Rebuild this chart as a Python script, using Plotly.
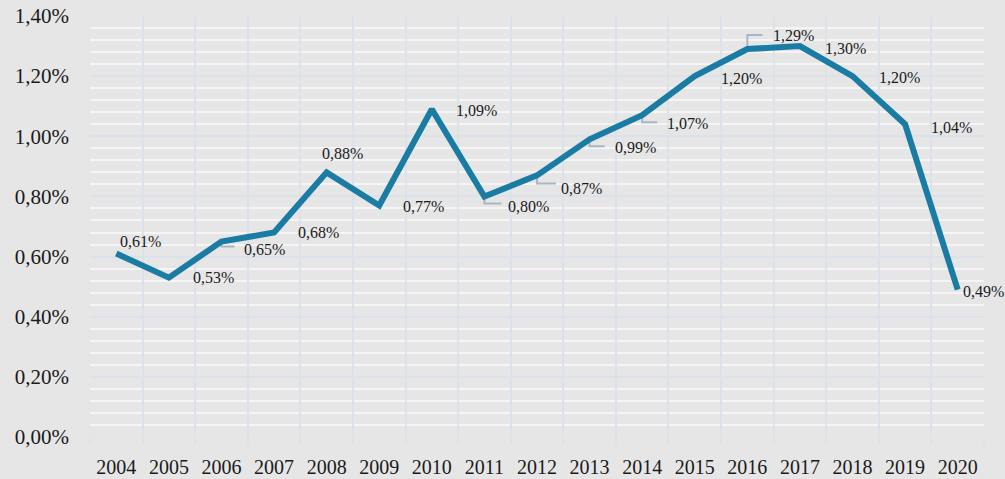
import plotly.graph_objects as go

years = ["2004", "2005", "2006", "2007", "2008", "2009", "2010", "2011", "2012",
         "2013", "2014", "2015", "2016", "2017", "2018", "2019", "2020"]
values = [0.61, 0.53, 0.65, 0.68, 0.88, 0.77, 1.09, 0.80, 0.87,
          0.99, 1.07, 1.20, 1.29, 1.30, 1.20, 1.04, 0.49]
labels = ["0,61%", "0,53%", "0,65%", "0,68%", "0,88%", "0,77%", "1,09%", "0,80%", "0,87%",
          "0,99%", "1,07%", "1,20%", "1,29%", "1,30%", "1,20%", "1,04%", "0,49%"]

# label offsets in screen pixels (dx to left edge, dy downward)
label_dx = [2, 22, 21, 22, -7, 22, 22, 22, 22, 23, 23, 24, 24, 23, 24, 24, 3]
label_dy = [-12, 0, 8, 0, -19, 1, 1, 10, 13, 8, 8, 2, -14, 2, 1, 3, 2]
# leader lines: (index, vertical px (down positive), horizontal px)
leaders = [(2, 5, 13), (7, 7, 17), (8, 8, 19), (9, 7, 15), (10, 7, 15), (12, -14, 15)]

FONT = "Liberation Serif"
BG = "#e6e6e6"
LINE = "#1a7ca3"

fig = go.Figure()
fig.add_trace(go.Scatter(
    x=years, y=values, mode="lines",
    line=dict(color=LINE, width=6),
    hoverinfo="skip", showlegend=False,
))

for i, (yr, v, t) in enumerate(zip(years, values, labels)):
    fig.add_annotation(
        x=i, y=v, text=t, showarrow=False,
        xanchor="left", yanchor="middle",
        xshift=label_dx[i], yshift=-label_dy[i],
        font=dict(family=FONT, size=16, color="#1a1a1a"),
    )

for idx, down, right in leaders:
    fig.add_shape(
        type="path", xref="x", yref="y",
        xsizemode="pixel", ysizemode="pixel",
        xanchor=idx, yanchor=values[idx],
        path=f"M0,0 V{-down} H{right}",
        line=dict(color="#a9b6c5", width=2),
        layer="between",
    )

fig.update_layout(
    width=1005, height=479,
    margin=dict(l=90, r=21, t=16, b=42),
    paper_bgcolor=BG, plot_bgcolor=BG,
    separators=",.",
    font=dict(family=FONT, size=20, color="#1a1a1a"),
    showlegend=False,
)
fig.update_xaxes(
    type="category", tickson="boundaries", range=[-0.5, 16.5],
    showgrid=True, gridcolor="#dce2e9", gridwidth=1.5,
    ticks="outside", ticklen=6, tickcolor="#dce2e9", tickwidth=1.5,
    showline=False, zeroline=False,
    tickfont=dict(family=FONT, size=20, color="#1a1a1a"),
    ticklabelstandoff=16, automargin=False,
    fixedrange=True,
)
fig.update_yaxes(
    range=[0, 1.4], dtick=0.2, tickformat=".2f", ticksuffix="%",
    showgrid=True, gridcolor="#dce2e9", gridwidth=1.5,
    minor=dict(dtick=0.04, showgrid=True, gridcolor="#f5f5f5", gridwidth=1.8),
    zeroline=False, showline=False, ticks="",
    tickfont=dict(family=FONT, size=21, color="#1a1a1a"),
    ticklabelstandoff=20, automargin=False,
    fixedrange=True,
)

fig.write_html("out.html", config={"displayModeBar": False},
               post_script="document.body.style.margin='0';")
